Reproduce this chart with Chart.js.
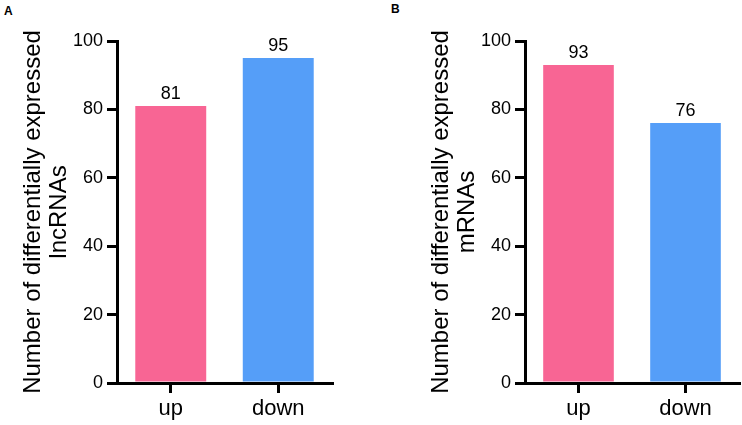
<!DOCTYPE html>
<html>
<head>
<meta charset="utf-8">
<script src="https://cdn.jsdelivr.net/npm/chart.js@4"></script>
<style>
  html, body { margin: 0; padding: 0; background: #fff; overflow: hidden; }
  body { width: 742px; height: 425px; position: relative; font-family: "Liberation Sans", Arial, sans-serif; }
  .wrap { position: absolute; top: 0; height: 425px; }
  .panel-label { position: absolute; font-weight: bold; font-size: 12px; color: #000; line-height: 1; }
</style>
</head>
<body>
<div class="panel-label" style="left:4px; top:5px;">A</div>
<div class="panel-label" style="left:391px; top:3px;">B</div>
<div class="wrap" style="left:0px; width:371px;"><canvas id="chartA" width="371" height="425"></canvas></div>
<div class="wrap" style="left:408px; width:334px;"><canvas id="chartB" width="334" height="425"></canvas></div>
<script>
const categories = ["up", "down"];
const lncRNAValues = [81, 95];
const mRNAValues = [93, 76];
const yTicks = [0, 20, 40, 60, 80, 100];
const barColors = ["#F86594", "#559EF8"];
const titleA = ["Number of differentially expressed", "lncRNAs"];
const titleB = ["Number of differentially expressed", "mRNAs"];

const FONT = "'Liberation Sans', Arial, sans-serif";

const valueLabels = {
  id: 'valueLabels',
  afterDatasetsDraw(chart) {
    const ctx = chart.ctx;
    const meta = chart.getDatasetMeta(0);
    const data = chart.data.datasets[0].data;
    ctx.save();
    ctx.font = "18px " + FONT;
    ctx.fillStyle = "#000";
    ctx.textAlign = "center";
    ctx.textBaseline = "alphabetic";
    meta.data.forEach((bar, i) => {
      ctx.fillText(String(data[i]), bar.x, bar.y - 7);
    });
    ctx.restore();
  }
};

function makeChart(id, values, title, padRight) {
  return new Chart(document.getElementById(id), {
    type: 'bar',
    data: {
      labels: categories,
      datasets: [{
        data: values,
        backgroundColor: barColors,
        borderWidth: 0,
        categoryPercentage: 1.0,
        barPercentage: 0.66
      }]
    },
    options: {
      responsive: false,
      animation: false,
      events: [],
      layout: { padding: { top: 41, right: padRight, bottom: 0, left: 0 } },
      plugins: { legend: { display: false }, tooltip: { enabled: false } },
      scales: {
        x: {
          type: 'category',
          offset: true,
          afterFit(scale) { scale.height = 42; },
          grid: {
            display: true, drawOnChartArea: false, drawTicks: true,
            tickLength: 10, lineWidth: 3, color: '#000', offset: false
          },
          border: { display: true, width: 3, color: '#000' },
          ticks: { color: '#000', font: { family: FONT, size: 22 }, padding: 3, maxRotation: 0 }
        },
        y: {
          min: 0, max: 100,
          afterFit(scale) { scale.width = 117; },
          afterBuildTicks(scale) { scale.ticks = yTicks.map(v => ({ value: v })); },
          grid: {
            display: true, drawOnChartArea: false, drawTicks: true,
            tickLength: 10, lineWidth: 3, color: '#000'
          },
          border: { display: true, width: 3, color: '#000' },
          ticks: { color: '#000', font: { family: FONT, size: 18 }, padding: 4 },
          title: {
            display: true,
            text: title,
            color: '#000',
            font: { family: FONT, size: 24, lineHeight: 1.1 },
            padding: { top: 20, bottom: 0 }
          }
        }
      }
    },
    plugins: [valueLabels]
  });
}

makeChart('chartA', lncRNAValues, titleA, 39);
makeChart('chartB', mRNAValues, titleB, 3);
</script>
</body>
</html>
